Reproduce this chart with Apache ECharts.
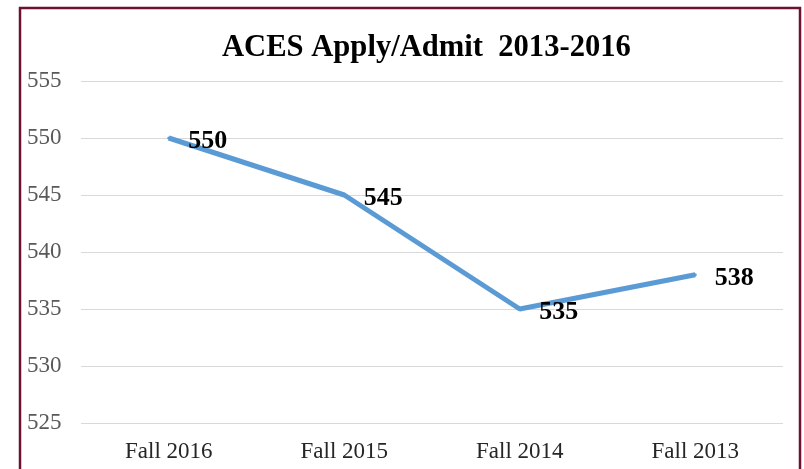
<!DOCTYPE html>
<html>
<head>
<meta charset="utf-8">
<script src="https://cdn.jsdelivr.net/npm/echarts@6/dist/echarts.min.js"></script>
<style>
  html, body { margin: 0; padding: 0; background: #fff; }
  #main { width: 804px; height: 469px; }
</style>
</head>
<body>
<div id="main"></div>
<script>
// Chart data
var categories = ['Fall 2016', 'Fall 2015', 'Fall 2014', 'Fall 2013'];
var applyAdmit = [550, 545, 535, 538];
var yMin = 525, yMax = 555, yStep = 5;

var chart = echarts.init(document.getElementById('main'));

var option = {
  animation: false,
  backgroundColor: '#fff',
  textStyle: { fontFamily: 'Liberation Serif' },
  title: {
    text: 'ACES Apply/Admit  2013-2016',
    left: 222,
    top: 33,
    padding: 0,
    textStyle: { fontFamily: 'Liberation Serif', fontWeight: 'bold', fontSize: 30.6, color: '#000' }
  },
  graphic: [{
    type: 'rect',
    shape: { x: 20, y: 8, width: 780, height: 480 },
    style: { fill: 'none', stroke: '#6b1232', lineWidth: 2.5 }
  }],
  grid: { left: 81, right: 21, top: 81, bottom: 46 },
  xAxis: {
    type: 'category',
    data: categories,
    boundaryGap: true,
    axisLine: { show: false },
    axisTick: { show: false },
    axisLabel: { fontFamily: 'Liberation Serif', fontSize: 23, color: '#262626', margin: 17 }
  },
  yAxis: {
    type: 'value',
    min: yMin,
    max: yMax,
    interval: yStep,
    axisLine: { show: false },
    axisTick: { show: false },
    splitLine: { lineStyle: { color: '#d9d9d9', width: 1 } },
    axisLabel: { fontFamily: 'Liberation Serif', fontSize: 23, color: '#595959', margin: 54, align: 'left' }
  },
  series: [{
    type: 'line',
    data: applyAdmit,
    symbol: 'circle',
    symbolSize: 3,
    showSymbol: true,
    itemStyle: { color: '#5b9bd5' },
    lineStyle: { color: '#5b9bd5', width: 5 },
    label: {
      show: true,
      position: 'right',
      distance: 18,
      offset: [0, 3],
      fontFamily: 'Liberation Serif',
      fontWeight: 'bold',
      fontSize: 26,
      color: '#000'
    }
  }]
};

chart.setOption(option);
</script>
</body>
</html>
